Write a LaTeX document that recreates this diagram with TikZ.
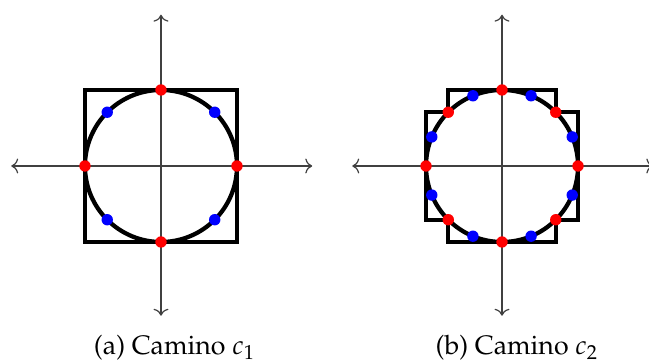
\documentclass[tikz,border=0pt]{standalone}
\usepackage[T1]{fontenc}
\usepackage{mathpazo}
\usetikzlibrary{arrows.meta}
\tikzset{
  axis/.style={draw=black!75, line width=0.45pt, {To[length=2.6pt,width=5.6pt]}-{To[length=2.6pt,width=5.6pt]}},
  pathline/.style={draw=black, line width=1.6pt},
  rdot/.style={circle, fill=red, inner sep=0pt, minimum size=1.5mm},
  bdot/.style={circle, fill=blue, inner sep=0pt, minimum size=1.5mm},
  caption/.style={font=\fontsize{10}{12}\selectfont, inner sep=0pt}
}
\begin{document}
\begin{tikzpicture}
\useasboundingbox (-2.118,-2.592) rectangle (6.421,2.184);
\clip (-2.118,-2.592) rectangle (6.421,2.184);
% ---- (a)
\begin{scope}
  \coordinate (aL) at (-1.97,0); \coordinate (aR) at (1.99,0);
  \coordinate (aT) at (0,1.99); \coordinate (aB) at (0,-1.97);
  \draw[axis] (aL) -- (aR);
  \draw[axis] (aB) -- (aT);
  \draw[pathline] (-1,-1) rectangle (1,1);
  \draw[pathline] (0,0) circle (1);
  \foreach \a in {0,90,180,270} \node[rdot] (ar\a) at (\a:1) {};
  \foreach \a in {45,135,225,315} \node[bdot] (ab\a) at (\a:1) {};
  \node[caption] (capa) at (0.18,-2.39) {(a) Camino $c_1$};
\end{scope}
% ---- (b)
\begin{scope}[shift={(4.487,0)}]
  \coordinate (bL) at (-1.97,0); \coordinate (bR) at (1.99,0);
  \coordinate (bT) at (0,1.99); \coordinate (bB) at (0,-1.97);
  \draw[axis] (bL) -- (bR);
  \draw[axis] (bB) -- (bT);
  \draw[pathline, line join=miter] (0.7071,1) -- (-0.7071,1) -- (-0.7071,0.7071) -- (-1,0.7071)
     -- (-1,-0.7071) -- (-0.7071,-0.7071) -- (-0.7071,-1) -- (0.7071,-1)
     -- (0.7071,-0.7071) -- (1,-0.7071) -- (1,0.7071) -- (0.7071,0.7071) -- cycle;
  \draw[pathline] (0,0) circle (1);
  \foreach \a in {0,45,...,315} \node[rdot] (br\a) at (\a:1) {};
  \foreach \a in {22.5,67.5,112.5,157.5,202.5,247.5,292.5,337.5} \node[bdot] at (\a:1) {};
  \node[caption] (capb) at (0.197,-2.39) {(b) Camino $c_2$};
\end{scope}
\end{tikzpicture}
\end{document}
